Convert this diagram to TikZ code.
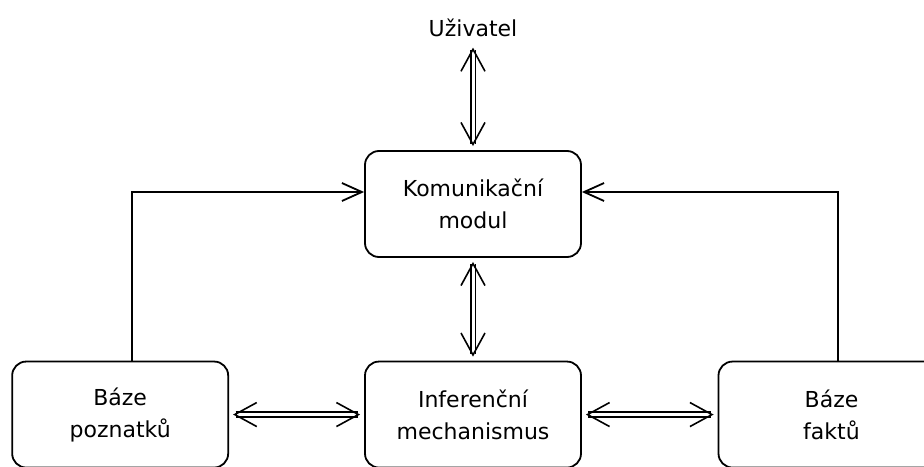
\documentclass[tikz,border=0pt]{standalone}
\usepackage{fontspec}
\setmainfont{DejaVu Sans}
\usetikzlibrary{arrows.meta,positioning}

\begin{document}
\begin{tikzpicture}[blok/.style={draw,line width=0.9pt,rounded corners=7pt,minimum width=108pt,minimum height=53pt,align=center,font=\fontsize{11}{16}\selectfont},
		tok/.style={line width=0.9pt,-{Straight Barb[length=10pt,width=9pt]}},
		obou/.style={double,line width=0.8pt,double distance=1.5pt,{Straight Barb[length=11pt,width=12pt,line width=0.8pt]}-{Straight Barb[length=11pt,width=12pt,line width=0.8pt]},shorten <=2pt,shorten >=2pt}]
		\useasboundingbox (-236.5pt,-131pt) rectangle (225.5pt,102pt);
		\clip (-236.5pt,-131pt) rectangle (225.5pt,102pt);

		\node[blok] (km) at (0,0) {Komunikační\\modul};
		\node[font=\fontsize{11}{16}\selectfont] (uz) [above of=km,yshift=21mm] {Uživatel};
		\node[blok] (im) [below of=km,yshift=-27mm] {Inferenční\\mechanismus};
		\node[blok] (bp) [left of=im,xshift=-52mm] {Báze\\poznatků};
		\node[blok,minimum width=113pt] (bf) [right of=im,xshift=53mm] {Báze\\faktů};

		\draw[obou] (uz) -- (km);
		\draw[obou] (km) -- (im);
		\draw[obou] (bp) -- (im);
		\draw[obou] (im) -- (bf);
		\draw[tok] ([xshift=6pt]bp.north) |- ([yshift=6pt]km.west);
		\draw[tok] ([xshift=3.25pt]bf.north) |- ([yshift=6pt]km.east);
	\end{tikzpicture}
\end{document}
